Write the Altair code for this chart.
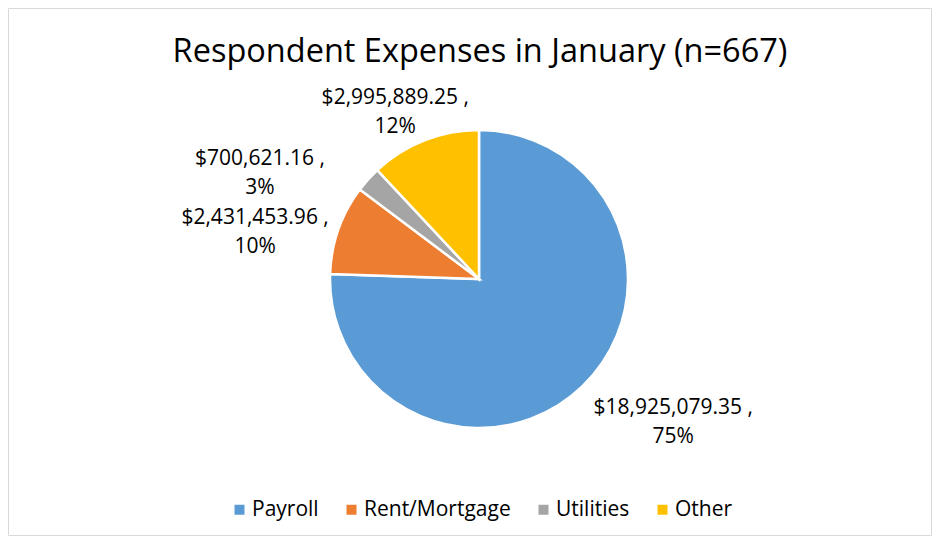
import altair as alt
import pandas as pd

categories = ["Payroll", "Rent/Mortgage", "Utilities", "Other"]
values = [18925079.35, 2431453.96, 700621.16, 2995889.25]
percents = [75, 10, 3, 12]
colors = ["#5B9BD5", "#ED7D31", "#A5A5A5", "#FFC000"]
order_idx = [0, 1, 2, 3]
title_text = "Respondent Expenses in January (n=667)"

df = pd.DataFrame({"category": categories, "value": values,
                   "pct": percents, "idx": order_idx})

FONT = "Open Sans"
CX, CY = 471, 271
W, H = 924, 528

base = alt.Chart(df).transform_joinaggregate(
    total="sum(value)"
).transform_window(
    cum="sum(value)", sort=[alt.SortField("idx")], frame=[None, 0]
).transform_calculate(
    start="(datum.cum - datum.value) / datum.total",
    end="datum.cum / datum.total",
    mid="(datum.cum - datum.value / 2) / datum.total",
    label="format(datum.value, '$,.2f') + ' ,\\n' + datum.pct + '%'",
)

theta_scale = alt.Scale(domain=[0, 1])

border = alt.Chart(pd.DataFrame({"b": [0]})).mark_rect(
    fillOpacity=0, stroke="#D9D9D9", strokeWidth=1
).encode(x=alt.value(0.5), x2=alt.value(W - 0.5),
         y=alt.value(0.5), y2=alt.value(H - 0.5))

pie = base.mark_arc(outerRadius=149, stroke="white", strokeWidth=2.5, x=CX, y=CY).encode(
    theta=alt.Theta("start:Q", scale=theta_scale),
    theta2="end:Q",
    color=alt.Color("category:N",
                    scale=alt.Scale(domain=categories, range=colors),
                    sort=categories,
                    legend=alt.Legend(title=None, orient="none", direction="horizontal",
                                      legendX=221, legendY=491,
                                      symbolType="square", symbolSize=100,
                                      symbolStrokeWidth=0,
                                      labelFont=FONT, labelFontSize=21,
                                      labelColor="black",
                                      columnPadding=22, labelOffset=2)),
)

def label_layer(cat, radius, dx, dy):
    return base.transform_filter(
        alt.datum.category == cat
    ).mark_text(radius=radius, dx=dx, dy=dy, baseline="middle", align="center",
                lineBreak="\n", lineHeight=29, font=FONT, fontSize=21,
                color="#000000", x=CX, y=CY).encode(
        theta=alt.Theta("mid:Q", scale=theta_scale),
        text="label:N",
    )

lbl_payroll = label_layer("Payroll", 170, 76, 7)
lbl_rent = label_layer("Rent/Mortgage", 160, -73, -8)
lbl_util = label_layer("Utilities", 160, -100, -13)
lbl_other = label_layer("Other", 160, -25, -32)

chart = alt.layer(border, pie, lbl_payroll, lbl_rent, lbl_util, lbl_other).properties(
    width=W, height=H,
    autosize=alt.AutoSizeParams(type="none"),
    padding=0,
    title=alt.TitleParams(title_text, font=FONT, fontSize=32.5, fontWeight="normal",
                          color="black", anchor="middle", offset=-86, dx=10,
                          baseline="alphabetic"),
).configure_view(stroke=None)

chart.save("out.html", embed_options={"renderer": "svg", "actions": False})
